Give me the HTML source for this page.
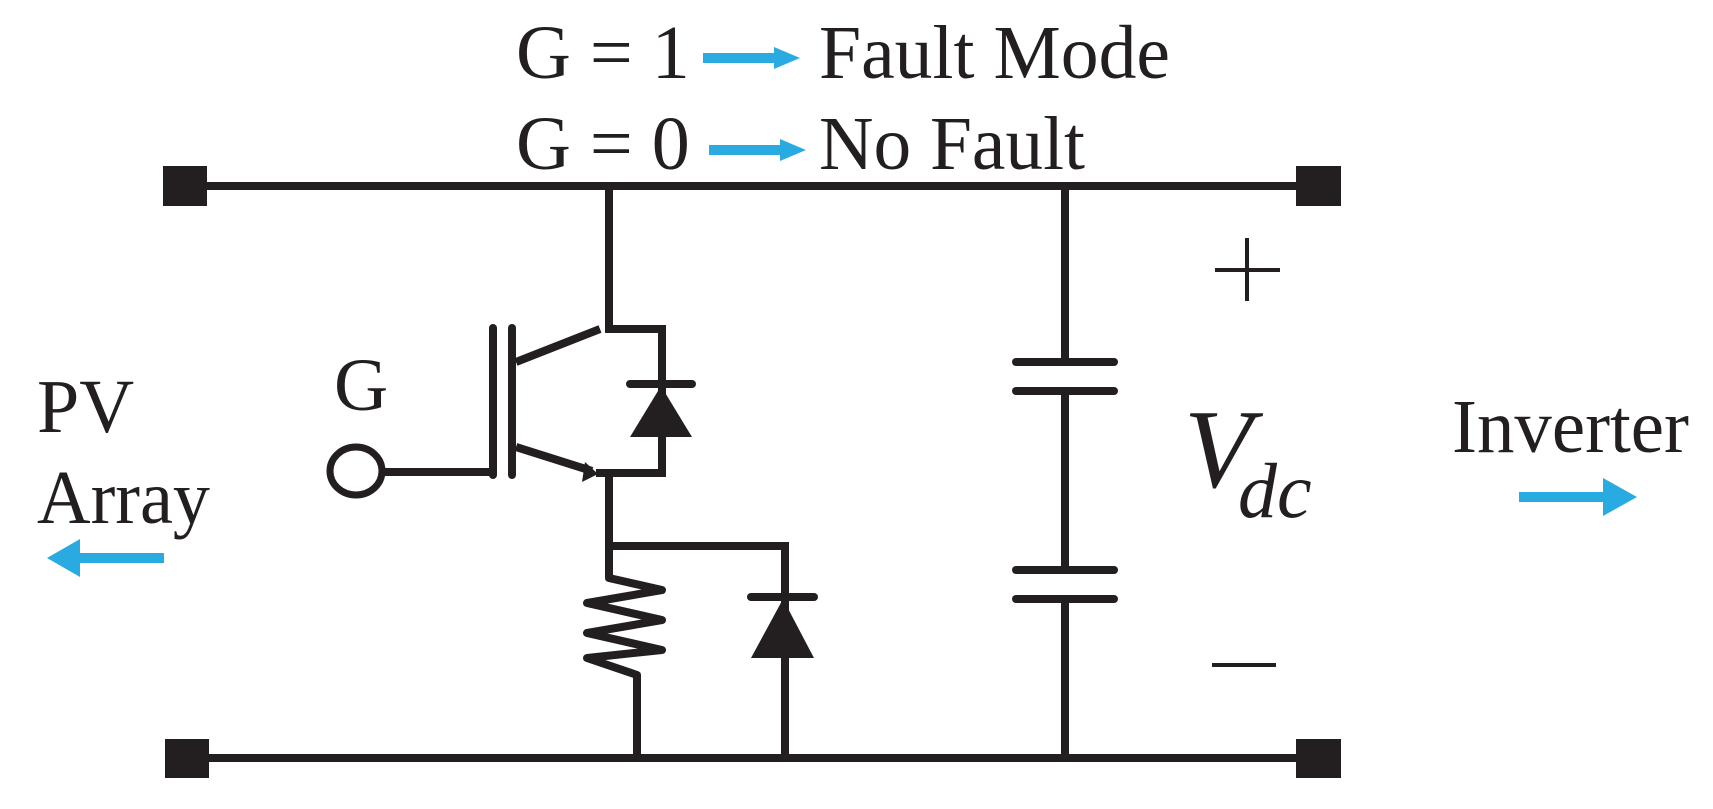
<!DOCTYPE html>
<html><head><meta charset="utf-8"><style>
html,body{margin:0;padding:0;background:#fff;width:1713px;height:809px;overflow:hidden}
svg{display:block}
text{font-family:"Liberation Serif",serif;fill:#231f20}
</style></head><body>
<svg width="1713" height="809" viewBox="0 0 1713 809" xmlns="http://www.w3.org/2000/svg">
<g stroke="#231f20" stroke-width="8" fill="none" stroke-linejoin="miter">
  <line x1="185" y1="186" x2="1320" y2="186"/>
  <line x1="185" y1="758" x2="1320" y2="758"/>
  <polyline points="609,186 609,329 662,329 662,473 596,473"/>
  <line x1="600" y1="329" x2="516" y2="362"/>
  <line x1="516" y1="447" x2="592" y2="471"/>
  <line x1="512" y1="328" x2="512" y2="475" stroke-linecap="round"/>
  <line x1="493" y1="328" x2="493" y2="475" stroke-linecap="round"/>
  <line x1="384" y1="472" x2="493" y2="472"/>
  <ellipse cx="356" cy="471" rx="26" ry="24" stroke-width="7"/>
  <polyline points="609,473 609,546 785,546 785,758"/>
  <polyline points="609,546 609,578 662,590 587,603 662,620 587,633 662,650 587,658 637,675 637,758" stroke-linejoin="round"/>
  <line x1="630" y1="384" x2="692" y2="384" stroke-linecap="round"/>
  <line x1="751" y1="597" x2="814" y2="597" stroke-linecap="round"/>
  <line x1="1065" y1="186" x2="1065" y2="362"/>
  <line x1="1065" y1="391" x2="1065" y2="570"/>
  <line x1="1065" y1="599" x2="1065" y2="758"/>
  <line x1="1016" y1="362" x2="1114" y2="362" stroke-linecap="round"/>
  <line x1="1016" y1="391" x2="1114" y2="391" stroke-linecap="round"/>
  <line x1="1016" y1="570" x2="1114" y2="570" stroke-linecap="round"/>
  <line x1="1016" y1="599" x2="1114" y2="599" stroke-linecap="round"/>
  <line x1="1215" y1="270" x2="1280" y2="270" stroke-width="4"/>
  <line x1="1247" y1="238" x2="1247" y2="301" stroke-width="4"/>
  <line x1="1212" y1="665" x2="1276" y2="665" stroke-width="4"/>
</g>
<g fill="#231f20">
  <rect x="163" y="166" width="44" height="40"/>
  <rect x="1296" y="166" width="45" height="40"/>
  <rect x="165" y="739" width="44" height="39"/>
  <rect x="1296" y="739" width="45" height="39"/>
  <polygon points="630,437 692,437 661,386"/>
  <polygon points="751,658 814,658 783,599"/>
  <polygon points="598,474 585,462 582,482"/>
</g>
<g fill="#29abe2">
  <rect x="703" y="53" width="74" height="10"/><polygon points="774,47 800,58 774,69"/>
  <rect x="709" y="145" width="74" height="10"/><polygon points="780,139 806,150 780,161"/>
  <rect x="1519" y="492" width="86" height="10"/><polygon points="1603,478 1637,497 1603,516"/>
  <rect x="78" y="553" width="86" height="10"/><polygon points="80,539 47,558 80,577"/>
</g>
<text x="516" y="78" font-size="76">G = 1</text>
<text x="819" y="78" font-size="76" textLength="351" lengthAdjust="spacingAndGlyphs">Fault Mode</text>
<text x="516" y="169" font-size="76">G = 0</text>
<text x="819" y="169" font-size="76" textLength="266" lengthAdjust="spacingAndGlyphs">No Fault</text>
<text x="334" y="410" font-size="75">G</text>
<text x="37" y="432" font-size="76">PV</text>
<text x="37" y="523" font-size="76" textLength="173" lengthAdjust="spacingAndGlyphs">Array</text>
<text x="1452" y="452" font-size="76" textLength="237" lengthAdjust="spacingAndGlyphs">Inverter</text>
<text x="1184" y="487" font-size="112" font-style="italic">V</text>
<text x="1238" y="517" font-size="78" font-style="italic">dc</text>
</svg>
</body></html>
